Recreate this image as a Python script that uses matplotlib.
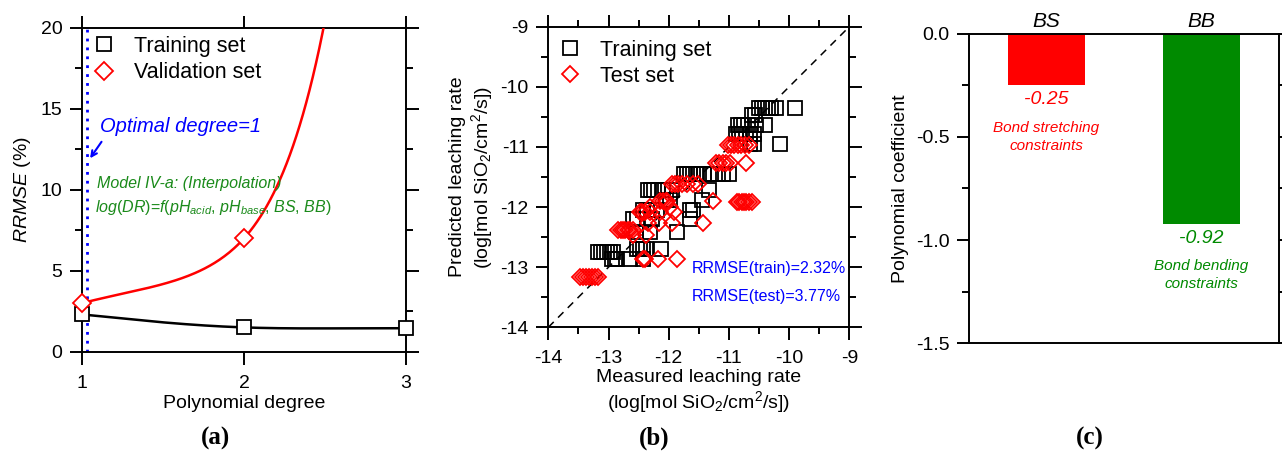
import numpy as np
import matplotlib
matplotlib.use("Agg")
import matplotlib.pyplot as plt
from matplotlib.ticker import MultipleLocator, FormatStrFormatter

plt.rcParams['font.family'] = ['Liberation Sans', 'DejaVu Sans']
plt.rcParams['mathtext.fontset'] = 'custom'
plt.rcParams['mathtext.rm'] = 'Liberation Sans'
plt.rcParams['mathtext.it'] = 'Liberation Sans:italic'
plt.rcParams['axes.unicode_minus'] = False
plt.rcParams['axes.linewidth'] = 1.4

# ---- panel (a) data
degree = [1, 2, 3]
rrmse_train = [2.3, 1.5, 1.45]
rrmse_valid = [3.0, 7.0, 72.0]   # last value is off the chart
optimal_degree = 1.03

# ---- panel (b) data (log measured vs predicted)
train_meas = [-10.50, -10.45, -10.40, -10.35, -10.30, -10.22, -9.90,
              -10.62, -10.57,
              -10.85, -10.80, -10.75, -10.68, -10.55, -10.40,
              -10.88, -10.83, -10.78, -10.72, -10.65, -10.58,
              -10.65, -10.58, -10.15,
              -11.75, -11.70, -11.65, -11.60, -11.55, -11.50, -11.42, -11.30, -11.18, -11.10, -11.00,
              -12.35, -12.30, -12.25, -12.18, -12.10, -11.95, -11.33,
              -11.45, -12.05, -11.98,
              -11.65, -11.59, -12.42, -12.36, -12.20,
              -11.65, -12.59, -12.52, -12.28,
              -11.87, -12.31, -12.55,
              -12.53, -12.47, -12.42, -12.37, -12.12,
              -13.17, -13.12, -13.07, -13.02, -12.97, -12.92,
              -12.95, -12.90, -12.86, -12.64, -12.42]
train_pred = [-10.36, -10.36, -10.36, -10.36, -10.36, -10.36, -10.36,
              -10.47, -10.47,
              -10.64, -10.64, -10.64, -10.64, -10.64, -10.64,
              -10.78, -10.78, -10.78, -10.78, -10.78, -10.78,
              -10.95, -10.95, -10.95,
              -11.45, -11.45, -11.45, -11.45, -11.45, -11.45, -11.45, -11.45, -11.45, -11.45, -11.45,
              -11.72, -11.72, -11.72, -11.72, -11.72, -11.72, -11.72,
              -11.88, -11.88, -11.88,
              -12.05, -12.05, -12.05, -12.05, -12.05,
              -12.20, -12.20, -12.20, -12.20,
              -12.42, -12.42, -12.42,
              -12.69, -12.69, -12.69, -12.69, -12.69,
              -12.74, -12.74, -12.74, -12.74, -12.74, -12.74,
              -12.87, -12.87, -12.87, -12.87, -12.87]
test_meas = [-13.47, -13.42, -13.37, -13.32, -13.27, -13.22, -13.17,
             -12.42, -12.40, -12.17, -11.86,
             -12.84, -12.80, -12.76, -12.72, -12.68, -12.64, -12.60,
             -12.59, -12.37,
             -12.16, -11.95, -11.43, -12.34,
             -12.48, -12.44, -12.40, -12.31, -12.14, -11.92,
             -12.15, -12.09, -12.05, -12.03, -11.26,
             -11.95, -11.90, -11.85, -11.78, -11.70, -11.60, -11.51,
             -10.87, -10.83, -10.79, -10.75, -10.71, -10.66, -10.62,
             -11.22, -11.16, -11.10, -11.05, -10.98, -10.72,
             -11.02, -10.97, -10.92, -10.85, -10.80, -10.73, -10.66,
             -12.31, -11.98]
test_pred = [-13.17, -13.17, -13.17, -13.17, -13.17, -13.17, -13.17,
             -12.87, -12.87, -12.87, -12.87,
             -12.38, -12.38, -12.38, -12.38, -12.38, -12.38, -12.38,
             -12.46, -12.46,
             -12.27, -12.27, -12.27, -12.27,
             -12.08, -12.08, -12.08, -12.08, -12.08, -12.08,
             -11.90, -11.90, -11.90, -11.90, -11.90,
             -11.61, -11.61, -11.61, -11.61, -11.61, -11.61, -11.61,
             -11.91, -11.91, -11.91, -11.91, -11.91, -11.91, -11.91,
             -11.26, -11.26, -11.26, -11.26, -11.26, -11.26,
             -10.97, -10.97, -10.97, -10.97, -10.97, -10.97, -10.97,
             -12.00, -12.00]

# ---- panel (c) data
coef_names = ['BS', 'BB']
coef_values = [-0.25, -0.92]
coef_desc = ['Bond stretching\nconstraints', 'Bond bending\nconstraints']
coef_colors = ['#ff0000', '#008a00']


def smooth_log(x, y, n=100):
    # cubic Hermite through the points in log space
    x = np.asarray(x, float)
    ly = np.log(np.asarray(y, float))
    d = np.gradient(ly, x)
    xs, ys = [], []
    t = np.linspace(0, 1, n)
    for i in range(len(x) - 1):
        h = x[i + 1] - x[i]
        h00 = 2 * t**3 - 3 * t**2 + 1
        h10 = t**3 - 2 * t**2 + t
        h01 = -2 * t**3 + 3 * t**2
        h11 = t**3 - t**2
        seg = h00 * ly[i] + h10 * h * d[i] + h01 * ly[i + 1] + h11 * h * d[i + 1]
        xs.append(x[i] + h * t)
        ys.append(np.exp(seg))
    return np.concatenate(xs), np.concatenate(ys)


def style_ticks(ax, minor=True):
    ax.tick_params(which='major', direction='out', length=9, width=1.4,
                   labelsize=14, top=True, right=True, pad=5)
    if minor:
        ax.tick_params(which='minor', direction='out', length=5, width=1.4,
                       top=True, right=True)


legend_kw = dict(loc='upper left', frameon=False, fontsize=15.5,
                 handlelength=0.8, handletextpad=1.0, labelspacing=0.25,
                 borderaxespad=0.2)

fig = plt.figure(figsize=(12.82, 4.53), dpi=100)

# ================= (a)
ax1 = fig.add_axes([0.0640, 0.2236, 0.2527, 0.7152])
xs, ys = smooth_log(degree, rrmse_valid)
ax1.plot(xs, ys, color='red', lw=1.8, zorder=3)
xs, ys = smooth_log(degree, rrmse_train)
ax1.plot(xs, ys, color='black', lw=1.8, zorder=3)
ax1.plot(degree, rrmse_train, 's', ms=9.5, mfc='white', mec='black', mew=1.3,
         ls='none', label='Training set', zorder=4, clip_on=False)
ax1.plot(degree, rrmse_valid, 'D', ms=9, mfc='white', mec='red', mew=1.3,
         ls='none', label='Validation set', zorder=4, clip_on=False)
ax1.axvline(optimal_degree, color='blue', ls=(0, (1, 2.2)), lw=2, zorder=2)
ax1.set_xlim(1, 3)
ax1.set_ylim(0, 20)
ax1.xaxis.set_major_locator(MultipleLocator(1))
ax1.yaxis.set_major_locator(MultipleLocator(5))
ax1.yaxis.set_minor_locator(MultipleLocator(2.5))
style_ticks(ax1)
ax1.tick_params(axis='x', which='major', pad=8)
ax1.set_xlabel('Polynomial degree', fontsize=14, labelpad=2)
ax1.set_ylabel(r'$\mathit{RRMSE}$ (%)', fontsize=14, labelpad=6)
ax1.legend(bbox_to_anchor=(0.0, 1.015), **legend_kw)
ax1.text(1.11, 13.9, 'Optimal degree=1', color='blue', style='italic',
         fontsize=14.5, va='center')
ax1.annotate('', xy=(1.04, 11.8), xytext=(1.13, 13.1),
             arrowprops=dict(arrowstyle='->', color='blue', lw=1.5))
ax1.text(1.09, 10.4, 'Model IV-a: (Interpolation)', color='#1a8a1a',
         style='italic', fontsize=11.5, va='center')
ax1.text(1.08, 8.9, r'$log(DR)$=$f(pH_{acid}$, $pH_{base}$, $BS$, $BB)$',
         color='#1a8a1a', fontsize=11.5, va='center')

# ================= (b)
ax2 = fig.add_axes([0.4277, 0.2775, 0.2348, 0.6636])
ax2.plot([-14, -9], [-14, -9], color='black', ls=(0, (5, 4)), lw=1.1, zorder=1)
ax2.plot(train_meas, train_pred, 's', ms=9.5, mfc='none', mec='black', mew=1.3,
         ls='none', label='Training set', zorder=2)
ax2.plot(test_meas, test_pred, 'D', ms=8.5, mfc='none', mec='red', mew=1.3,
         ls='none', label='Test set', zorder=3)
ax2.set_xlim(-14, -9)
ax2.set_ylim(-14, -9)
ax2.xaxis.set_major_locator(MultipleLocator(1))
ax2.yaxis.set_major_locator(MultipleLocator(1))
ax2.xaxis.set_minor_locator(MultipleLocator(0.5))
ax2.yaxis.set_minor_locator(MultipleLocator(0.5))
style_ticks(ax2)
ax2.tick_params(axis='x', which='major', pad=7)
ax2.set_xlabel('Measured leaching rate\n(log[mol SiO$_2$/cm$^2$/s])',
               fontsize=14, labelpad=2, linespacing=1.15)
ax2.set_ylabel('Predicted leaching rate\n(log[mol SiO$_2$/cm$^2$/s])',
               fontsize=14, labelpad=4, linespacing=1.15)
ax2.legend(bbox_to_anchor=(0.0, 1.0), **legend_kw)
ax2.text(-11.62, -13.02, 'RRMSE(train)=2.32%', color='blue', fontsize=11.5,
         va='center')
ax2.text(-11.62, -13.48, 'RRMSE(test)=3.77%', color='blue', fontsize=11.5,
         va='center')

# ================= (c)
ax3 = fig.add_axes([0.7559, 0.2422, 0.2416, 0.6834])
pos = np.arange(len(coef_names))
ax3.bar(pos, coef_values, width=0.5, color=coef_colors, edgecolor='none')
for p, v, d, c in zip(pos, coef_values, coef_desc, coef_colors):
    ax3.text(p, v - 0.07, f'{v:.2f}', color=c, style='italic', fontsize=14,
             ha='center', va='center')
    ax3.text(p, v - 0.25, d, color=c, style='italic', fontsize=11,
             ha='center', va='center', linespacing=1.35)
ax3.set_xlim(-0.5, 1.5)
ax3.set_ylim(-1.5, 0)
ax3.yaxis.set_major_locator(MultipleLocator(0.5))
ax3.yaxis.set_minor_locator(MultipleLocator(0.25))
ax3.yaxis.set_major_formatter(FormatStrFormatter('%.1f'))
ax3.set_xticks(pos)
ax3.set_xticklabels(coef_names, style='italic')
ax3.tick_params(axis='x', which='both', bottom=False, top=False, length=0,
                labelbottom=False, labeltop=True, labelsize=15, pad=2)
ax3.tick_params(axis='y', which='major', direction='out', length=9,
                width=1.4, labelsize=14, right=True, pad=5)
ax3.tick_params(axis='y', which='minor', direction='out', length=5,
                width=1.4, right=True)
ax3.set_ylabel('Polynomial coefficient', fontsize=14, labelpad=5)

# panel labels
for xp, lab in [(215, '(a)'), (654, '(b)'), (1090, '(c)')]:
    fig.text(xp / 1282, 0.033, lab, fontsize=18, fontweight='bold',
             family='Liberation Serif', ha='center', va='center')

fig.savefig('out.png', dpi=100)
